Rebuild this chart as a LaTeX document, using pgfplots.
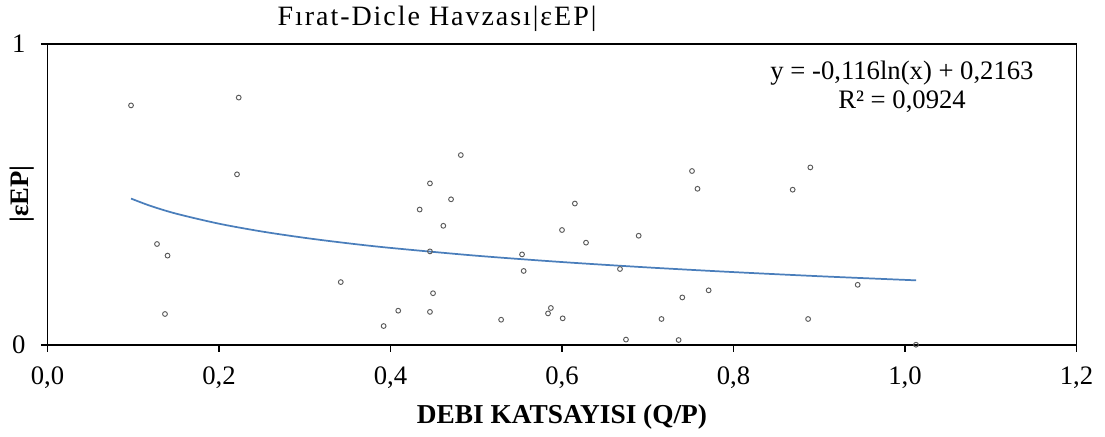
\documentclass[border=0pt]{standalone}
\usepackage{pgfplots}
\pgfplotsset{compat=1.18}
\usepackage{fontspec}
\setmainfont{Liberation Serif}
\definecolor{trend}{HTML}{4A7EBB}
\definecolor{mk}{HTML}{5A5A5A}
\begin{document}
\begin{tikzpicture}
\begin{axis}[
  at={(35.625pt,68.25pt)}, anchor=south west,
  scale only axis,
  width=771.75pt, height=225.75pt,
  xmin=0, xmax=1.2, ymin=0, ymax=1,
  xtick={0,0.2,0.4,0.6,0.8,1.0,1.2},
  xticklabels={{0,0},{0,2},{0,4},{0,6},{0,8},{1,0},{1,2}},
  ytick={0,1}, yticklabels={0,1},
  tick align=outside, xtick pos=bottom, ytick pos=left,
  major tick length=5pt,
  axis line style={line width=0.8pt, black},
  every tick/.style={line width=1.2pt, black},
  tick label style={font=\fontsize{20}{22}\selectfont},
  xticklabel style={yshift=-8pt},
  yticklabel style={xshift=-8pt},
  clip=false,
]
\draw[line width=1.4pt, black] (rel axis cs:0,1) -- (rel axis cs:0,0) -- (rel axis cs:1,0);
\addplot[only marks, mark=o, mark size=1.8pt, mark options={mk, line width=0.7pt}] coordinates {
(0.0974,0.796) (0.223,0.822) (0.221,0.567) (0.1277,0.3355) (0.140,0.297)
(0.137,0.103) (0.342,0.209) (0.392,0.063) (0.409,0.114) (0.446,0.110)
(0.4496,0.172) (0.446,0.311) (0.434,0.450) (0.446,0.537) (0.4706,0.484)
(0.4616,0.396) (0.482,0.631) (0.529,0.084) (0.5534,0.301) (0.5553,0.246)
(0.5837,0.105) (0.587,0.123) (0.6008,0.0886) (0.600,0.382) (0.615,0.470)
(0.628,0.340) (0.6676,0.2525) (0.6746,0.018) (0.6894,0.363) (0.716,0.0864)
(0.736,0.0166) (0.7403,0.158) (0.7516,0.578) (0.758,0.519) (0.771,0.1816)
(0.869,0.516) (0.8896,0.590) (0.887,0.0864) (0.9448,0.200) (1.0128,0.001)
};
\addplot[trend, line width=1.3pt, smooth] coordinates {
(0.0974,0.4865) (0.12,0.4623) (0.15,0.4364) (0.2,0.4030) (0.25,0.3771)
(0.3,0.3560) (0.35,0.3381) (0.4,0.3226) (0.5,0.2967) (0.6,0.2756)
(0.7,0.2577) (0.8,0.2422) (0.9,0.2285) (1.013,0.2148)
};
\end{axis}
\node[font=\fontsize{21}{23}\selectfont\addfontfeature{LetterSpace=7}] at (327.75pt,312.75pt) {Fırat-Dicle Havzası|εEP|};
\node[font=\fontsize{20}{22}\selectfont, align=center] at (676.5pt,261.75pt) {y = -0,116ln(x) + 0,2163\\ R² = 0,0924};
\node[font=\bfseries\fontsize{20.5}{22}\selectfont] at (421.5pt,14pt) {DEBI KATSAYISI (Q/P)};
\node[font=\bfseries\fontsize{20}{22}\selectfont, rotate=90] at (16.5pt,181.5pt) {|εEP|};
\pgfresetboundingbox
\path[use as bounding box] (0pt,0pt) rectangle (828.75pt,327pt);
\end{tikzpicture}
\end{document}
